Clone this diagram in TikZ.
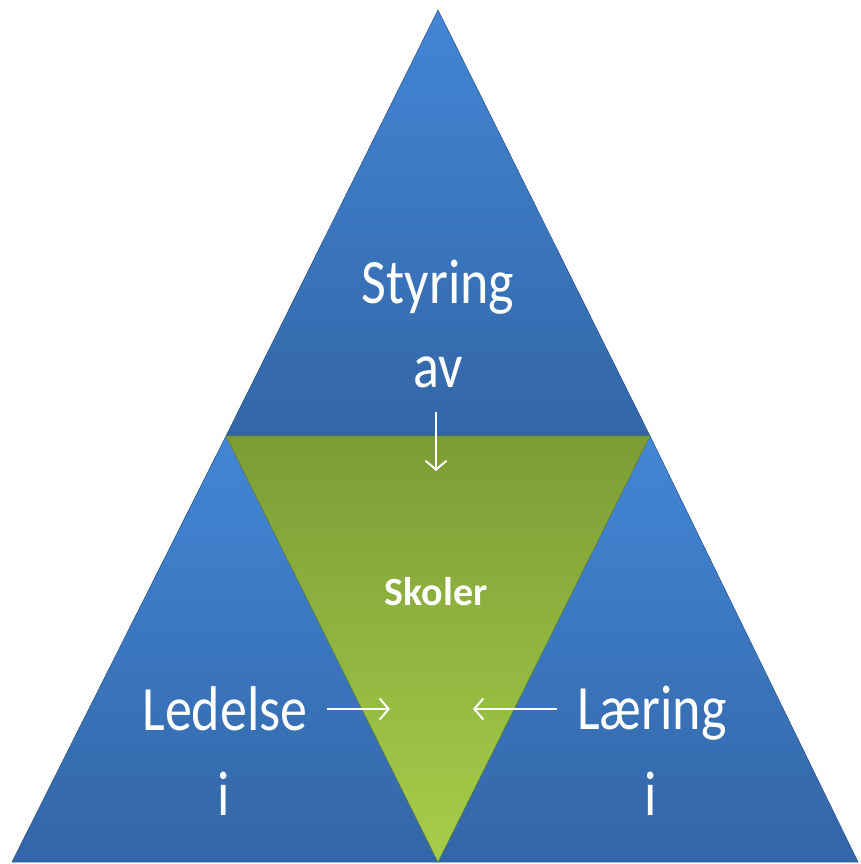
\documentclass[tikz,border=0pt]{standalone}
\usepackage{fontspec}
\setmainfont{Carlito}
\usepackage{graphicx}
\usetikzlibrary{arrows.meta, positioning}

\definecolor{bluetop}{RGB}{66,134,214}
\definecolor{bluebot}{RGB}{51,102,166}
\definecolor{blueedge}{RGB}{45,90,150}
\definecolor{greentop}{RGB}{124,156,54}
\definecolor{greenbot}{RGB}{166,206,74}
\definecolor{greenedge}{RGB}{105,135,48}

\newcommand{\tallword}[1]{\scalebox{1}[1.17]{#1}}

\tikzstyle{bluetri} = [top color=bluetop, bottom color=bluebot, draw=blueedge, line width=0.6pt, line join=round]
\tikzstyle{greentri} = [top color=greentop, bottom color=greenbot, draw=greenedge, line width=0.6pt, line join=round]
\tikzstyle{word} = [text=white, inner sep=0pt, anchor=base, font=\fontsize{54}{60}\selectfont]
\tikzstyle{title} = [text=white, inner sep=0pt, anchor=base, font=\fontsize{40}{46}\selectfont\bfseries]
\tikzstyle{arrow} = [white, line width=2pt, -{Straight Barb[length=9pt,width=21pt]}]

\begin{document}
\begin{tikzpicture}[x=1pt, y=-1pt]
			\useasboundingbox (0,0) rectangle (861,864);
			% Corners
			\coordinate (apex) at (438,10);
			\coordinate (midl) at (226,436);
			\coordinate (midr) at (650,436);
			\coordinate (botl) at (12,862);
			\coordinate (botm) at (438,862);
			\coordinate (botr) at (858,862);
			
			% Triangles
			\shade [bluetri] (apex) -- (midr) -- (midl) -- cycle;
			\shade [bluetri] (midl) -- (botm) -- (botl) -- cycle;
			\shade [bluetri] (midr) -- (botr) -- (botm) -- cycle;
			\shade [greentri] (midl) -- (midr) -- (botm) -- cycle;
			
			% Nodes
			\node (styring) [word] at (438,303) {\tallword{Styring}};
			\node (av) [word] at (438,387) {\tallword{av}};
			\node (skoler) [title] at (436,605) {Skoler};
			\node (ledelse) [word] at (225,730) {\tallword{Ledelse}};
			\node (ledi) [word] at (224,815) {\tallword{i}};
			\node (laering) [word] at (652,729) {\tallword{Læring}};
			\node (laeri) [word] at (651,815) {\tallword{i}};
			
			% Arrow tips
			\coordinate (avtip) at (436,471);
			\coordinate (ledtip) at (390,709);
			\coordinate (laertip) at (473,709);
			
			% Arrows
			\draw [arrow, shorten <=24pt] (av.south -| avtip) -- (avtip);
			\draw [arrow, shorten <=19pt] (ledelse.east |- ledtip) -- (ledtip);
			\draw [arrow, shorten <=20pt] (laering.west |- laertip) -- (laertip);
		\end{tikzpicture}
\end{document}
